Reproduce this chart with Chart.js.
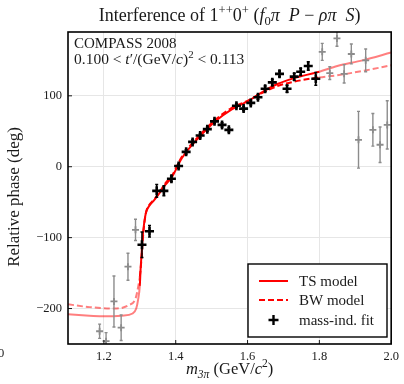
<!DOCTYPE html>
<html><head><meta charset="utf-8">
<script src="https://cdn.jsdelivr.net/npm/chart.js@4.4.1/dist/chart.umd.min.js"></script>
<style>html,body{margin:0;padding:0;background:#fff}</style>
</head><body>
<canvas id="c" width="404" height="384"></canvas>
<script>
// axis ticks
const xTicks = [1.2, 1.4, 1.6, 1.8, 2.0];
const yTicks = [-200, -100, 0, 100];

// mass-independent fit, inside fit range (black)
const fitMass  = [1.306,1.327,1.347,1.367,1.388,1.408,1.429,1.447,1.468,1.488,1.508,1.529,1.548,1.569,1.589,1.609,1.629,1.649,1.669,1.689,1.710,1.730,1.748,1.769,1.790];
const fitPhase = [-110,-91,-34,-34,-17,1,21,35,44,53,64,59,52,86,82,90,98,110,119,131,110,127,134,142,124];
const fitErr   = [18,8,9,7,4,3,3,3,3,3,3,3,3,3,3,3,3,4,4,4,5,5,5,6,9];

// mass-independent fit, outside fit range (grey)
const outMass  = [1.188,1.206,1.228,1.248,1.267,1.288,1.808,1.829,1.849,1.869,1.889,1.909,1.929,1.949,1.969,1.989];
const outPhase = [-232,-246,-190,-227,-141,-89,162,132,181,131,159,38,150,52,31,59];
const outErr   = [10,12,36,18,19,15,12,9,11,13,14,40,16,23,25,34];

// model curves
const tsMass  = [1.10,1.16,1.20,1.25,1.28,1.29,1.295,1.30,1.302,1.305,1.308,1.312,1.317,1.325,1.34,1.355,1.37,1.39,1.417,1.464,1.51,1.556,1.60,1.64,1.685,1.73,1.80,1.85,1.92,2.0];
const tsPhase = [-208,-210,-211,-210,-207,-200,-188,-168,-146,-122,-99,-80,-65,-56,-47,-37,-26,-14,12,41,64,81,92,105,117,125,134,142,150,161];
const bwMass  = [1.10,1.16,1.23,1.27,1.288,1.297,1.30,1.302,1.306,1.31,1.317,1.325,1.34,1.355,1.37,1.39,1.417,1.464,1.51,1.556,1.60,1.64,1.685,1.73,1.80,1.85,1.92,2.0];
const bwPhase = [-194,-198,-200,-195,-186,-165,-155,-146,-120,-92,-65,-55,-46,-36,-24,-12,14,43,66,83,93,104,114,120,126,129,135,143];

const fitLo = 1.3, fitHi = 1.8;
const legendLabels = ['TS model', 'BW model', 'mass-ind. fit'];

const FF = '"Liberation Serif", "DejaVu Serif", serif';
const INK = '#1a1a1a', RED = '#ff0000', PALE = 'rgba(255,0,0,0.5)';

const pts = (xs, ys) => xs.map((x, i) => ({ x, y: ys[i] }));
const segCol = c => (c.p0.parsed.x >= fitLo - 1e-9 && c.p1.parsed.x <= fitHi + 1e-9) ? RED : PALE;

// text runs with italics / sup / sub
const fnt = (r, s) => (r.it ? 'italic ' : '') + ((r.sup || r.sub) ? s * 0.7 : s) + 'px ' + FF;
function drawRuns(ctx, runs, x, y, s, align) {
  let w = 0;
  runs.forEach(r => { ctx.font = fnt(r, s); w += ctx.measureText(r.t).width; });
  let cx = align === 'center' ? x - w / 2 : x;
  ctx.textAlign = 'left'; ctx.textBaseline = 'alphabetic'; ctx.fillStyle = INK;
  runs.forEach(r => {
    ctx.font = fnt(r, s);
    const dy = r.sup ? -s * 0.4 : r.sub ? s * 0.22 : 0;
    ctx.fillText(r.t, cx, y + dy);
    cx += ctx.measureText(r.t).width;
  });
}

const errPlugin = {
  id: 'errbars',
  afterDatasetsDraw(chart) {
    const { ctx, chartArea: a, scales: { x, y } } = chart;
    ctx.save();
    ctx.beginPath(); ctx.rect(a.left, a.top, a.right - a.left, a.bottom - a.top); ctx.clip();
    chart.data.datasets.forEach(ds => {
      if (!ds.errs) return;
      ctx.strokeStyle = ds.borderColor; ctx.lineWidth = ds.errW;
      ds.data.forEach((p, i) => {
        const px = x.getPixelForValue(p.x);
        const y1 = y.getPixelForValue(p.y - ds.errs[i]), y2 = y.getPixelForValue(p.y + ds.errs[i]);
        ctx.beginPath();
        ctx.moveTo(px, y1); ctx.lineTo(px, y2);
        ctx.moveTo(px - 1.5, y1); ctx.lineTo(px + 1.5, y1);
        ctx.moveTo(px - 1.5, y2); ctx.lineTo(px + 1.5, y2);
        ctx.stroke();
      });
    });
    ctx.restore();
  }
};

const decoPlugin = {
  id: 'deco',
  afterDraw(chart) {
    const { ctx, chartArea: a, scales: { x, y } } = chart;
    ctx.save();
    // inward ticks
    ctx.strokeStyle = INK; ctx.lineWidth = 1;
    xTicks.forEach(v => { const p = x.getPixelForValue(v); ctx.beginPath(); ctx.moveTo(p, a.bottom); ctx.lineTo(p, a.bottom - 4); ctx.stroke(); });
    yTicks.forEach(v => { const p = y.getPixelForValue(v); ctx.beginPath(); ctx.moveTo(a.left, p); ctx.lineTo(a.left + 4, p); ctx.stroke(); });
    // frame
    ctx.lineWidth = 1.6; ctx.strokeStyle = '#000';
    ctx.strokeRect(a.left, a.top, a.right - a.left, a.bottom - a.top);

    // legend
    const lx = 248, ly = 264, lw = 139, lh = 73;
    ctx.fillStyle = '#fff'; ctx.fillRect(lx, ly, lw, lh);
    ctx.lineWidth = 1.4; ctx.strokeRect(lx, ly, lw, lh);
    const rows = [281, 300, 320];
    ctx.lineWidth = 2; ctx.strokeStyle = RED;
    ctx.beginPath(); ctx.moveTo(259, rows[0]); ctx.lineTo(288, rows[0]); ctx.stroke();
    ctx.setLineDash([6, 3]);
    ctx.beginPath(); ctx.moveTo(259, rows[1]); ctx.lineTo(288, rows[1]); ctx.stroke();
    ctx.setLineDash([]);
    ctx.strokeStyle = '#000'; ctx.lineWidth = 2.4;
    ctx.beginPath(); ctx.moveTo(268.5, rows[2]); ctx.lineTo(278.5, rows[2]); ctx.moveTo(273.5, rows[2] - 5); ctx.lineTo(273.5, rows[2] + 5); ctx.stroke();
    ctx.font = '15px ' + FF; ctx.fillStyle = INK; ctx.textAlign = 'left'; ctx.textBaseline = 'middle';
    legendLabels.forEach((t, i) => ctx.fillText(t, 299, rows[i] + 1));

    // title
    drawRuns(ctx, [
      { t: 'Interference of 1' }, { t: '++', sup: 1 }, { t: '0' }, { t: '+', sup: 1 }, { t: ' (' },
      { t: 'f', it: 1 }, { t: '0', sub: 1 }, { t: 'π  P', it: 1 }, { t: ' − ' }, { t: 'ρπ  S', it: 1 }, { t: ')' }
    ], (a.left + a.right) / 2, 21, 18, 'center');

    // annotation
    drawRuns(ctx, [{ t: 'COMPASS 2008' }], 74, 48, 15, 'left');
    drawRuns(ctx, [
      { t: '0.100 < ' }, { t: 't', it: 1 }, { t: '′/(GeV/' }, { t: 'c', it: 1 }, { t: ')' }, { t: '2', sup: 1 }, { t: ' < 0.113' }
    ], 74, 64, 15.5, 'left');

    // x label
    drawRuns(ctx, [
      { t: 'm', it: 1 }, { t: '3π', sub: 1, it: 1 }, { t: ' (GeV/' }, { t: 'c', it: 1 }, { t: '2', sup: 1 }, { t: ')' }
    ], (a.left + a.right) / 2, 374, 16.5, 'center');

    // y label
    ctx.save(); ctx.translate(19, 197); ctx.rotate(-Math.PI / 2);
    drawRuns(ctx, [{ t: 'Relative phase (deg)' }], 0, 0, 17, 'center');
    ctx.restore();

    // fragment of neighbouring panel's tick label
    ctx.font = '12.5px ' + FF; ctx.fillStyle = INK; ctx.textAlign = 'left'; ctx.textBaseline = 'middle';
    ctx.fillText('0', -2, 354);
    ctx.restore();
  }
};

new Chart(document.getElementById('c'), {
  type: 'scatter',
  data: {
    datasets: [
      { data: pts(fitMass, fitPhase), errs: fitErr, errW: 1.5, borderColor: '#000', backgroundColor: '#000',
        pointStyle: 'cross', pointRadius: 4.5, borderWidth: 2.6, showLine: false },
      { data: pts(outMass, outPhase), errs: outErr, errW: 1.4, borderColor: '#8c8c8c', backgroundColor: '#8c8c8c',
        pointStyle: 'cross', pointRadius: 3.5, borderWidth: 1.8, showLine: false },
      { data: pts(tsMass, tsPhase), showLine: true, pointRadius: 0, borderWidth: 2, borderColor: RED,
        cubicInterpolationMode: 'monotone', segment: { borderColor: segCol } },
      { data: pts(bwMass, bwPhase), showLine: true, pointRadius: 0, borderWidth: 2, borderColor: RED, borderDash: [6, 3],
        cubicInterpolationMode: 'monotone', segment: { borderColor: segCol } }
    ]
  },
  options: {
    responsive: false, animation: false, events: [],
    layout: { padding: { top: 32, right: 11, left: 0, bottom: 0 } },
    plugins: { legend: { display: false }, tooltip: { enabled: false } },
    scales: {
      x: {
        type: 'linear', min: 1.1, max: 2.0,
        afterBuildTicks: s => { s.ticks = xTicks.map(v => ({ value: v })); },
        afterFit: s => { s.height = 40; },
        ticks: { autoSkip: false, maxRotation: 0, padding: 5, color: INK, font: { family: FF, size: 12.5 }, callback: v => v.toFixed(1) },
        grid: { color: '#e6e6e6', drawTicks: false },
        border: { display: false }
      },
      y: {
        min: -250, max: 190,
        afterBuildTicks: s => { s.ticks = yTicks.map(v => ({ value: v })); },
        afterFit: s => { s.width = 68; },
        ticks: { autoSkip: false, padding: 6, color: INK, font: { family: FF, size: 12.5 }, callback: v => v < 0 ? '−' + Math.abs(v) : String(v) },
        grid: { color: '#e6e6e6', drawTicks: false },
        border: { display: false }
      }
    }
  },
  plugins: [errPlugin, decoPlugin]
});
</script>
</body></html>
